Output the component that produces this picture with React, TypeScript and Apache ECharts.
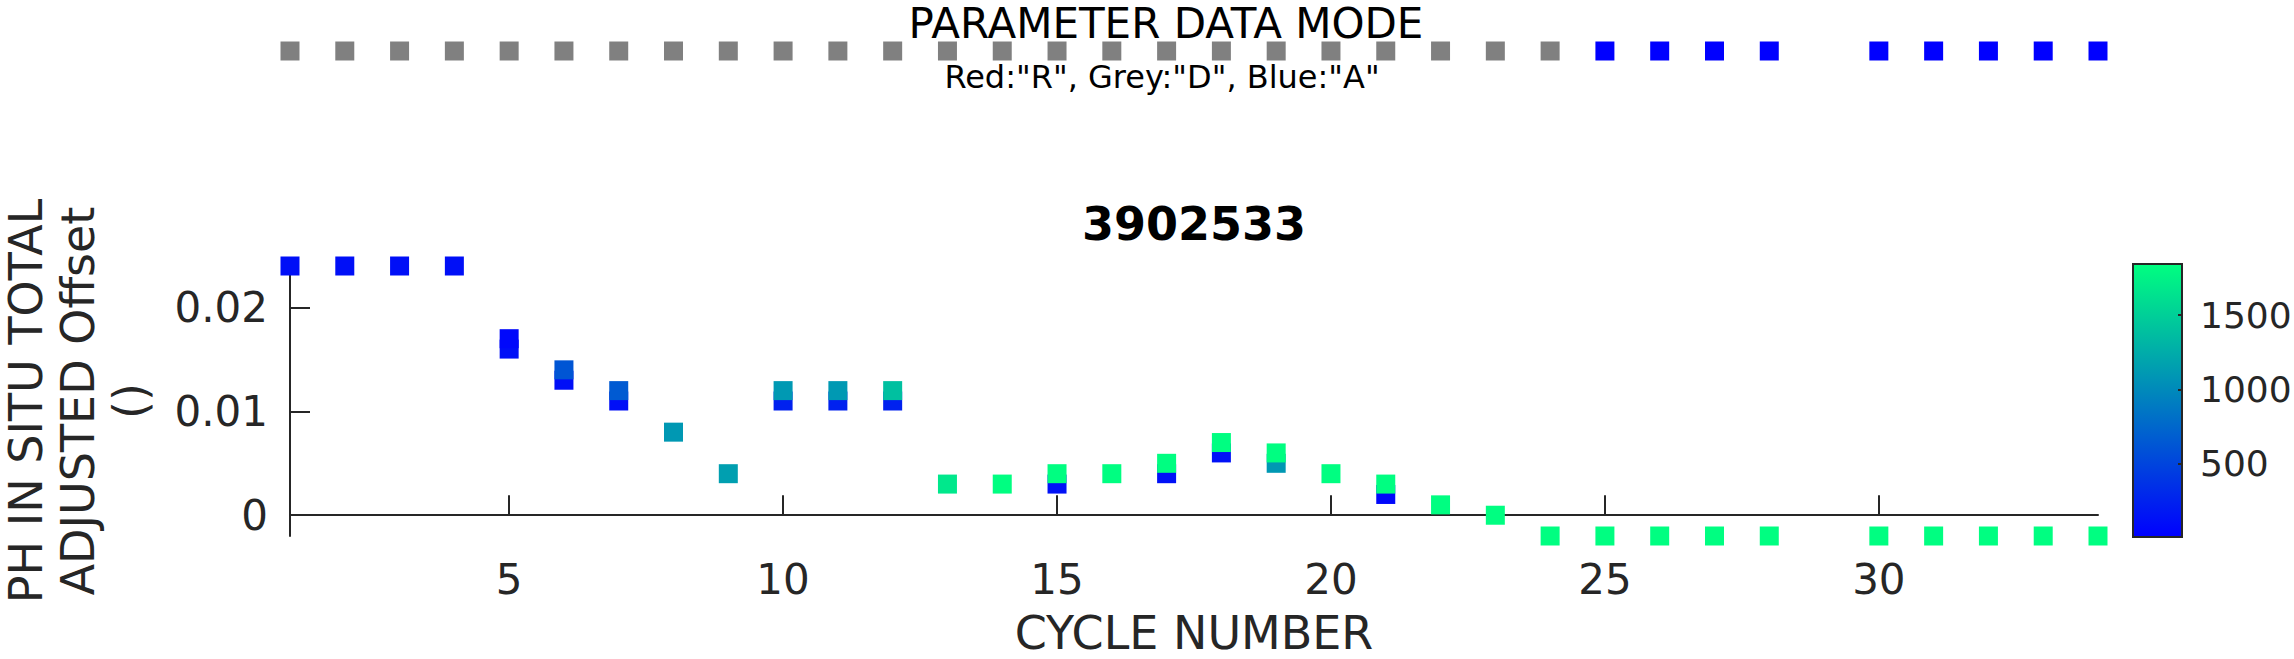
import React, { useEffect, useRef } from "react";
import * as echarts from "echarts";

// ---- data ----
const cycles = [1, 2, 3, 4, 5, 5, 6, 6, 7, 7, 8, 9, 10, 10, 11, 11, 12, 12, 13, 14, 15, 15, 16, 17, 17, 18, 18, 19, 19, 20, 21, 21, 22, 23, 24, 25, 26, 27, 28, 30, 31, 32, 33, 34];
const offsets = [0.024, 0.024, 0.024, 0.024, 0.016, 0.017, 0.013, 0.014, 0.011, 0.012, 0.008, 0.004, 0.011, 0.012, 0.011, 0.012, 0.011, 0.012, 0.003, 0.003, 0.003, 0.004, 0.004, 0.004, 0.005, 0.006, 0.007, 0.005, 0.006, 0.004, 0.002, 0.003, 0.001, 0, -0.002, -0.002, -0.002, -0.002, -0.002, -0.002, -0.002, -0.002, -0.002, -0.002];
const pressures = [110, 110, 110, 110, 110, 60, 110, 620, 110, 650, 1100, 1150, 240, 1110, 240, 1110, 240, 1390, 1680, 1840, 120, 1840, 1840, 120, 1840, 120, 1840, 1100, 1840, 1840, 60, 1840, 1840, 1840, 1840, 1840, 1840, 1840, 1840, 1840, 1840, 1840, 1840, 1840];

const modeCycles = [1, 2, 3, 4, 5, 6, 7, 8, 9, 10, 11, 12, 13, 14, 15, 16, 17, 18, 19, 20, 21, 22, 23, 24, 25, 26, 27, 28, 30, 31, 32, 33, 34];
const modes = ["D", "D", "D", "D", "D", "D", "D", "D", "D", "D", "D", "D", "D", "D", "D", "D", "D", "D", "D", "D", "D", "D", "D", "D", "A", "A", "A", "A", "A", "A", "A", "A", "A"];
const modeColors: Record<string, string> = { R: "#FF0000", D: "#808080", A: "#0000FF" };

const xRange = [1, 34];
const yRange = [-0.002, 0.024];
const xTicks = [5, 10, 15, 20, 25, 30];
const yTicks = [0, 0.01, 0.02];
const cbRange = [0, 1850];
const cbTicks = [500, 1000, 1500];
const winter = ["#0000FF", "#00FF80"];

const FONT = "DejaVu Sans";
const AX = "#262626";

export default function App() {
  const ref = useRef<HTMLDivElement>(null);
  useEffect(() => {
    if (!ref.current) return;
    const chart = echarts.init(ref.current, null, { renderer: "svg" });
    const mainData = cycles.map((c, i) => [c, offsets[i], pressures[i]]);
    const stripData = modeCycles.map((c, i) => ({
      value: [c, 0.5],
      itemStyle: { color: modeColors[modes[i]] },
    }));
    const option: any = {
      animation: false,
      backgroundColor: "#ffffff",
      textStyle: { fontFamily: FONT },
      grid: [
        { left: 290, top: 266, width: 1808, height: 270, outerBoundsMode: "none", containLabel: false },
        { left: 290, top: 41, width: 1808, height: 20, outerBoundsMode: "none", containLabel: false },
        { left: 2132, top: 263, width: 51, height: 275, outerBoundsMode: "none", containLabel: false },
      ],
      visualMap: {
        type: "continuous",
        show: false,
        min: cbRange[0],
        max: cbRange[1],
        dimension: 2,
        seriesIndex: 0,
        inRange: { color: winter },
      },
      xAxis: [
        {
          type: "value",
          gridIndex: 0,
          min: xRange[0],
          max: xRange[1],
          splitLine: { show: false },
          axisLine: { lineStyle: { color: AX, width: 2 } },
          axisTick: { inside: true, length: 20, customValues: xTicks, lineStyle: { color: AX, width: 2 } },
          axisLabel: { customValues: xTicks, margin: 22, fontSize: 42, color: AX, fontFamily: FONT },
          name: "CYCLE NUMBER",
          nameLocation: "middle",
          nameGap: 79,
          nameTextStyle: { fontSize: 46, lineHeight: 36, color: AX, fontFamily: FONT },
        },
        {
          type: "value",
          gridIndex: 1,
          min: xRange[0],
          max: xRange[1],
          show: false,
        },
        {
          type: "category",
          gridIndex: 2,
          data: ["cb"],
          show: false,
        },
      ],
      yAxis: [
        {
          type: "value",
          gridIndex: 0,
          min: yRange[0],
          max: yRange[1],
          splitLine: { show: false },
          axisLine: { lineStyle: { color: AX, width: 2 } },
          axisTick: { inside: true, length: 20, customValues: yTicks, lineStyle: { color: AX, width: 2 } },
          axisLabel: {
            customValues: yTicks,
            margin: 22,
            fontSize: 42,
            color: AX,
            fontFamily: FONT,
            formatter: (v: number) => String(Math.round(v * 1000) / 1000),
          },
          name: "PH IN SITU TOTAL\nADJUSTED Offset\n()",
          nameLocation: "middle",
          nameRotate: 90,
          nameGap: 134,
          nameTextStyle: { fontSize: 46, lineHeight: 52, color: AX, fontFamily: FONT },
        },
        {
          type: "value",
          gridIndex: 1,
          min: 0,
          max: 1,
          show: false,
        },
        {
          type: "value",
          gridIndex: 2,
          min: cbRange[0],
          max: cbRange[1],
          position: "right",
          z: 5,
          splitLine: { show: false },
          axisLine: { show: false },
          axisTick: { show: true, inside: true, length: 5, customValues: cbTicks, lineStyle: { color: AX, width: 2 } },
          axisLabel: {
            customValues: cbTicks,
            margin: 17,
            fontSize: 36,
            color: AX,
            fontFamily: FONT,
            formatter: (v: number) => String(v),
          },
        },
      ],
      series: [
        {
          type: "scatter",
          xAxisIndex: 0,
          yAxisIndex: 0,
          symbol: "rect",
          symbolSize: 19,
          clip: false,
          itemStyle: { opacity: 1 },
          data: mainData,
        },
        {
          type: "scatter",
          xAxisIndex: 1,
          yAxisIndex: 1,
          symbol: "rect",
          symbolSize: 19,
          clip: false,
          itemStyle: { opacity: 1 },
          data: stripData,
        },
        {
          type: "bar",
          xAxisIndex: 2,
          yAxisIndex: 2,
          barWidth: "100%",
          data: [cbRange[1]],
          itemStyle: {
            color: new echarts.graphic.LinearGradient(0, 0, 0, 1, [
              { offset: 0, color: winter[1] },
              { offset: 1, color: winter[0] },
            ]),
            borderColor: AX,
            borderWidth: 2,
          },
        },
      ],
      graphic: [
        {
          type: "text",
          x: 1166,
          y: 23,
          style: {
            text: "PARAMETER DATA MODE",
            font: `42px "${FONT}"`,
            lineHeight: 42,
            fill: "#000",
            align: "center",
            verticalAlign: "middle",
            textAlign: "center",
            textVerticalAlign: "middle",
          },
        },
        {
          type: "text",
          x: 1162,
          y: 77,
          style: {
            text: 'Red:"R", Grey:"D", Blue:"A"',
            font: `32px "${FONT}"`,
            fill: "#000",
            align: "center",
            verticalAlign: "middle",
            textAlign: "center",
            textVerticalAlign: "middle",
          },
        },
        {
          type: "text",
          x: 1194,
          y: 224,
          style: {
            text: "3902533",
            font: `bold 46px "${FONT}"`,
            fill: "#000",
            align: "center",
            verticalAlign: "middle",
            textAlign: "center",
            textVerticalAlign: "middle",
          },
        },
      ],
    };
    chart.setOption(option);
    return () => chart.dispose();
  }, []);
  return (
    <div
      ref={ref}
      style={{ position: "absolute", left: 0, top: 0, width: 2294, height: 659 }}
    />
  );
}
